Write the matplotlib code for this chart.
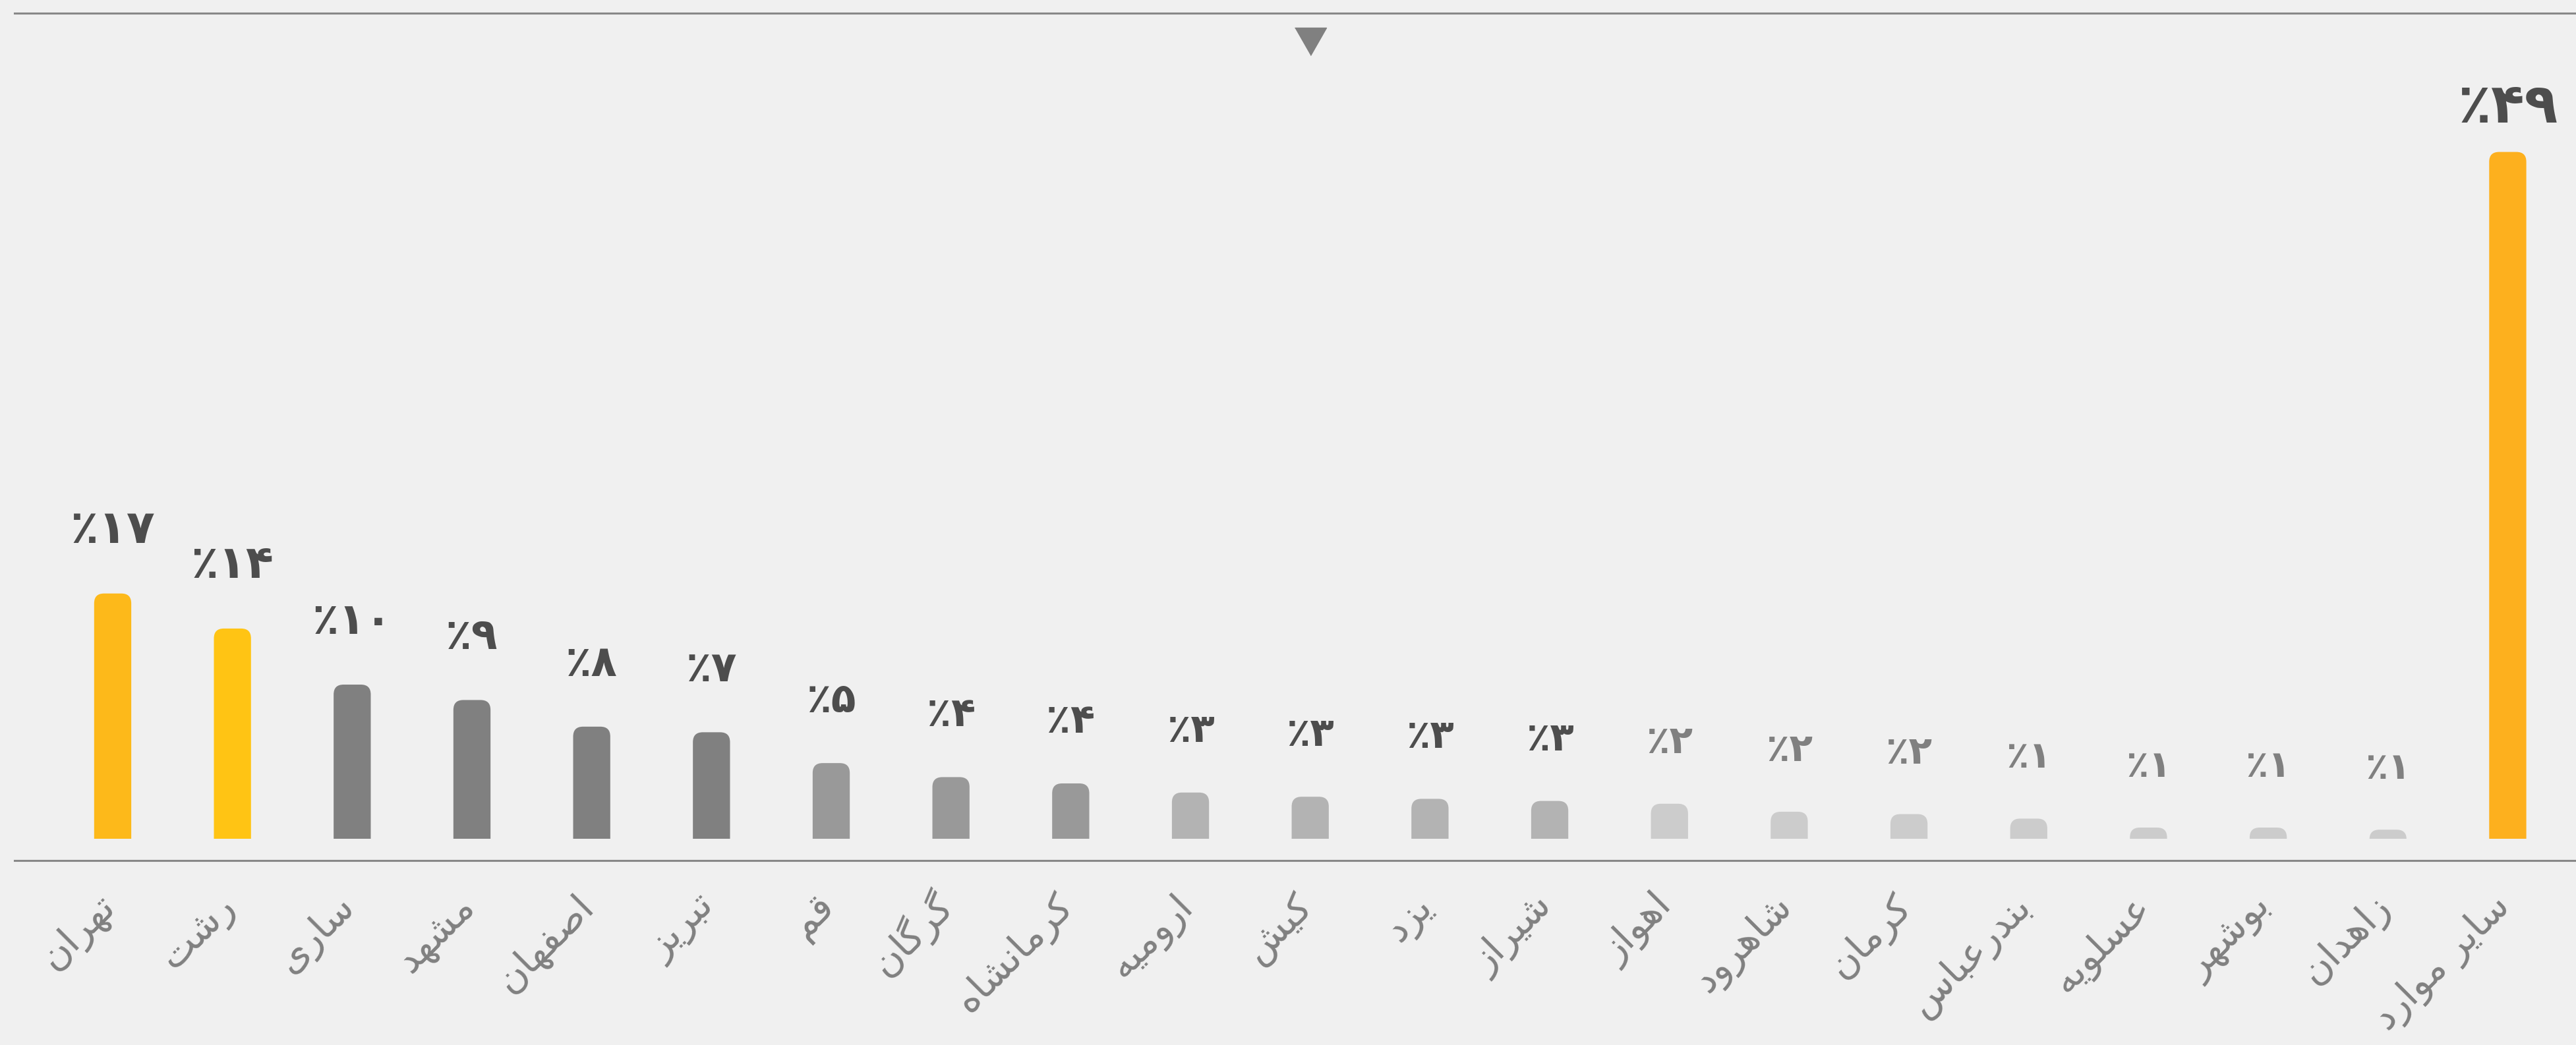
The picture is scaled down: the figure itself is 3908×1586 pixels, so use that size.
import matplotlib
matplotlib.use("Agg")
import matplotlib.pyplot as plt
import numpy as np
from matplotlib import transforms
from matplotlib.patches import FancyBboxPatch, Rectangle

# سهم شهرها (درصد)
cities = ["تهران", "رشت", "ساری", "مشهد", "اصفهان", "تبریز", "قم", "گرگان",
          "کرمانشاه", "ارومیه", "کیش", "یزد", "شیراز", "اهواز", "شاهرود",
          "کرمان", "بندرعباس", "عسلویه", "بوشهر", "زاهدان", "سایر موارد"]
shares = [17.5, 15.0, 11.0, 9.9, 8.0, 7.6, 5.4, 4.4, 3.95, 3.3, 3.0, 2.85,
          2.7, 2.5, 1.93, 1.76, 1.44, 0.8, 0.8, 0.65, 49.0]
share_labels = [17, 14, 10, 9, 8, 7, 5, 4, 4, 3, 3, 3, 3, 2, 2, 2, 1, 1, 1, 1, 49]

bar_colors = (["#FDB91A", "#FFC414"] + ["#808080"] * 4 + ["#999999"] * 3
              + ["#B3B3B3"] * 4 + ["#CCCCCC"] * 7 + ["#FDB01E"])

BG = "#F0F0F0"
W, H, DPI = 3908, 1586, 100

# presentation forms: isolated, final, initial, medial
FORMS = {
    "ا": ("\uFE8D", "\uFE8E", None, None),
    "ب": ("\uFE8F", "\uFE90", "\uFE91", "\uFE92"),
    "ت": ("\uFE95", "\uFE96", "\uFE97", "\uFE98"),
    "د": ("\uFEA9", "\uFEAA", None, None),
    "ر": ("\uFEAD", "\uFEAE", None, None),
    "ز": ("\uFEAF", "\uFEB0", None, None),
    "س": ("\uFEB1", "\uFEB2", "\uFEB3", "\uFEB4"),
    "ش": ("\uFEB5", "\uFEB6", "\uFEB7", "\uFEB8"),
    "ص": ("\uFEB9", "\uFEBA", "\uFEBB", "\uFEBC"),
    "ع": ("\uFEC9", "\uFECA", "\uFECB", "\uFECC"),
    "ف": ("\uFED1", "\uFED2", "\uFED3", "\uFED4"),
    "ق": ("\uFED5", "\uFED6", "\uFED7", "\uFED8"),
    "ل": ("\uFEDD", "\uFEDE", "\uFEDF", "\uFEE0"),
    "م": ("\uFEE1", "\uFEE2", "\uFEE3", "\uFEE4"),
    "ن": ("\uFEE5", "\uFEE6", "\uFEE7", "\uFEE8"),
    "ه": ("\uFEE9", "\uFEEA", "\uFEEB", "\uFEEC"),
    "و": ("\uFEED", "\uFEEE", None, None),
    "ی": ("\uFBFC", "\uFBFD", "\uFBFE", "\uFBFF"),
    "ک": ("\uFB8E", "\uFB8F", "\uFB90", "\uFB91"),
    "گ": ("\uFB92", "\uFB93", "\uFB94", "\uFB95"),
}


def shape(word):
    # join letters and flip to visual order (matplotlib draws left to right)
    out = []
    for i, ch in enumerate(word):
        if ch not in FORMS:
            out.append(ch)
            continue
        iso, fin, ini, med = FORMS[ch]
        prev = word[i - 1] if i > 0 else None
        nxt = word[i + 1] if i < len(word) - 1 else None
        join_prev = prev in FORMS and FORMS[prev][2] is not None
        join_next = ini is not None and nxt in FORMS
        if join_prev and join_next:
            out.append(med)
        elif join_prev:
            out.append(fin)
        elif join_next:
            out.append(ini)
        else:
            out.append(iso)
    return "".join(reversed(out))


fa_digits = str.maketrans("0123456789", "۰۱۲۳۴۵۶۷۸۹")

plt.rcParams["font.family"] = ["DejaVu Sans"]

fig = plt.figure(figsize=(W / DPI, H / DPI), dpi=DPI, facecolor=BG)
ax = fig.add_axes([22 / W, 280 / H, 1 - 22 / W, 1286 / H])
ax.set_facecolor(BG)

x = np.arange(len(cities))
ax.set_xlim(-0.82, 20.57)
ax.set_ylim(-1.55, 58.9)

bars = ax.bar(x, shares, width=0.31, color=bar_colors)

# rounded tops: px per data unit in x and y
fig.canvas.draw()
p0 = ax.transData.transform((0, 0))
p1 = ax.transData.transform((1, 1))
sx, sy = p1 - p0
aspect = sx / sy
r = 15 / sx
clip = Rectangle((-5, 0), 40, 100, transform=ax.transData)
for b in bars:
    bx, bw, bh = b.get_x(), b.get_width(), b.get_height()
    ext = 2 * r * aspect
    fb = FancyBboxPatch((bx, -ext), bw, bh + ext,
                        boxstyle=f"round,pad=0,rounding_size={r}",
                        mutation_aspect=aspect, facecolor=b.get_facecolor(),
                        edgecolor="none")
    ax.add_patch(fb)
    fb.set_clip_path(clip)
    b.set_visible(False)

# percent labels
for xi, v, lab in zip(x, shares, share_labels):
    txt = "٪" + str(lab).translate(fa_digits)
    glyph_px = 44 + 3.8 * np.sqrt(lab)
    fs = 0.86 * glyph_px / 0.73 * 72 / DPI
    off = 45 if xi == len(cities) - 1 else 77
    ax.annotate(txt, (xi, v), xytext=(0, off * 72 / DPI), textcoords="offset points",
                ha="center", va="baseline", fontsize=fs, fontweight="bold",
                color="#4D4D4D" if lab >= 3 else "#808080")

# city labels
ax.set_xticks(x)
ax.set_xticklabels([shape(c) for c in cities], rotation=45, ha="right",
                   va="baseline", rotation_mode="anchor", fontsize=42,
                   color="#808080")
ax.tick_params(axis="x", length=0, pad=52)
shift = transforms.ScaledTranslation(6 / DPI, 0, fig.dpi_scale_trans)
for lab in ax.get_xticklabels():
    lab.set_transform(lab.get_transform() + shift)
ax.set_yticks([])

for side in ["left", "right"]:
    ax.spines[side].set_visible(False)
for side in ["top", "bottom"]:
    ax.spines[side].set_color("#888888")
    ax.spines[side].set_linewidth(2.2)

# marker at the middle of the chart
ax.plot([x[len(x) // 2]], [0.9666], marker=[(-1, 0.875), (1, 0.875), (0, -0.875)],
        markersize=48 * 72 / DPI, color="#808080", linestyle="none",
        transform=transforms.blended_transform_factory(ax.transData, ax.transAxes),
        clip_on=False)

fig.savefig("out.png", dpi=DPI, facecolor=BG)
